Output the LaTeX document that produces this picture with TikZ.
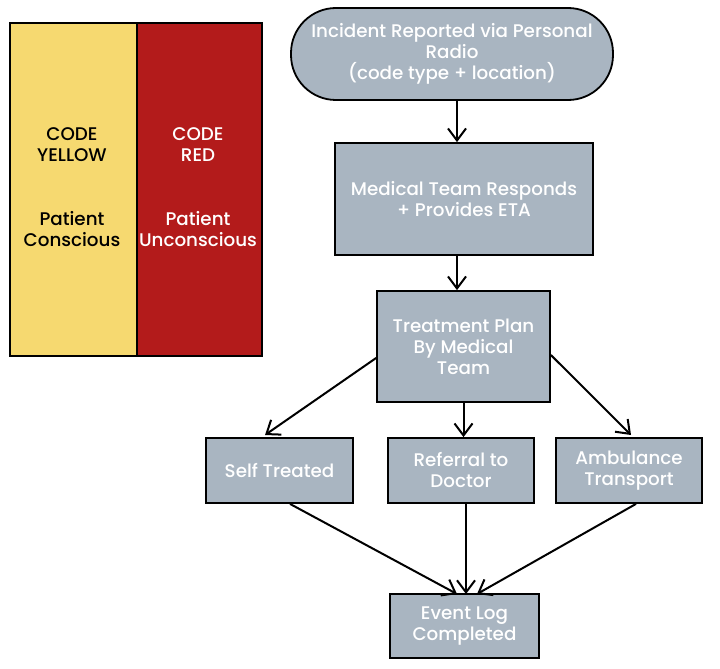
\documentclass[tikz,border=0pt]{standalone}
\usepackage{fontspec}
\setmainfont{Poppins}[UprightFont=* Medium]
\usetikzlibrary{arrows.meta}
\definecolor{boxgray}{HTML}{A9B5C1}
\definecolor{codeyellow}{HTML}{F6D970}
\definecolor{codered}{HTML}{B31B1B}
\tikzset{
  txt/.style={font=\fontsize{18.3}{21}\selectfont},
  flowbox/.style={draw=black, line width=1.8pt, fill=boxgray, text=white, align=center, txt, inner sep=0pt},
  codebox/.style={draw=black, line width=1.8pt, inner sep=0pt},
  codetext/.style={align=center, txt},
  flow/.style={draw=black, line width=2pt, -{Straight Barb[length=12pt,width=18pt,line width=2pt]}}
}
\begin{document}
\begin{tikzpicture}[x=1pt,y=-1pt]
\useasboundingbox (0,0) rectangle (720,669);
% code boxes
\node[codebox, fill=codeyellow, minimum width=127pt, minimum height=333pt, anchor=north west] (yellow) at (9,22) {};
\node[codebox, fill=codered, minimum width=125pt, minimum height=333pt, anchor=north west] (red) at (136,22) {};
\node[codetext, text=black] (ytitle) at (72,145) {CODE\\YELLOW};
\node[codetext, text=black] (ytext) at (72,229) {Patient\\Conscious};
\node[codetext, text=white] (rtitle) at (198,145) {CODE\\RED};
\node[codetext, text=white] (rtext) at (198,229) {Patient\\Unconscious};
% flow
\node[flowbox, rounded corners=45pt, minimum width=322pt, minimum height=92pt] (inc) at (452,54) {Incident Reported via Personal\\Radio\\(code type + location)};
\node[flowbox, minimum width=258pt, minimum height=112pt] (med) at (464,199) {Medical Team Responds\\+ Provides ETA};
\node[flowbox, minimum width=173pt, minimum height=111pt] (plan) at (463.5,346.5) {Treatment Plan\\By Medical\\Team};
\node[flowbox, minimum width=147pt, minimum height=65pt] (self) at (279.5,470.5) {Self Treated};
\node[flowbox, minimum width=146pt, minimum height=65pt] (ref) at (461,470.5) {Referral to\\Doctor};
\node[flowbox, minimum width=146pt, minimum height=65pt] (amb) at (629,470.5) {Ambulance\\Transport};
\node[flowbox, minimum width=149pt, minimum height=64pt] (log) at (464.5,626) {Event Log\\Completed};
% connectors
\draw[flow] (inc.south -| 457,0) -- (med.north -| 457,0);
\draw[flow] (med.south -| 457,0) -- (plan.north -| 457,0);
\draw[flow] (plan.west |- 0,358) -- (265,435);
\draw[flow] (plan.south) -- (ref.north -| plan.south);
\draw[flow] (plan.east |- 0,355) -- (631,435);
\draw[flow] (self.south -| 290,0) -- (457,594);
\draw[flow] (ref.south -| 466,0) -- (466,594);
\draw[flow] (amb.south -| 636,0) -- (477,594);
\end{tikzpicture}
\end{document}
